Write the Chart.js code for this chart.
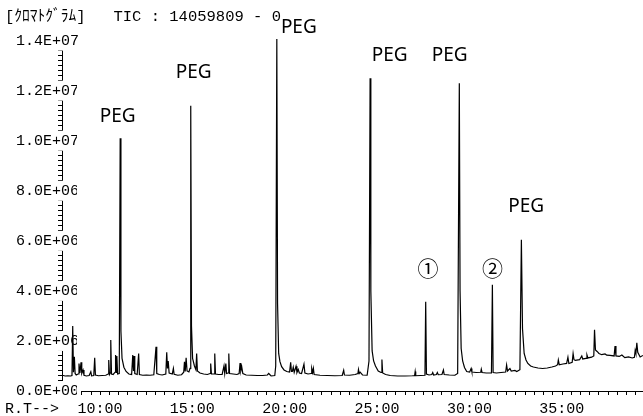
<!DOCTYPE html>
<html><head><meta charset="utf-8">
<script src="https://cdn.jsdelivr.net/npm/chart.js@4"></script>
<style>html,body{margin:0;padding:0;background:#fff}#wrap{width:643px;height:416px;position:relative}</style>
</head><body><div id="wrap"><canvas id="c"></canvas></div>
<script>
const chartTitle = '[ｸﾛﾏﾄｸﾞﾗﾑ]   TIC : 14059809 - 0';
const axisPrefix = 'R.T-->';

// retention time (min)
const times = [
 8.45,8.6,8.75,8.9,8.97,9.01,9.05,9.1,9.14,9.2,9.3,9.35,9.4,9.46,9.5,9.57,9.62,9.75,9.9,9.99,10.03,10.15,10.2,10.24,10.4,10.6,10.8,10.93,10.96,11.0,11.04,11.07,11.11,11.2,11.3,11.33,11.37,11.4,11.44,11.53,11.58,11.62,11.68,11.78,11.9,12.05,12.2,12.26,12.3,12.33,12.37,12.5,12.58,12.62,12.8,13.0,13.2,13.4,13.52,13.56,13.7,13.85,14.05,14.1,14.14,14.18,14.23,14.4,14.46,14.5,14.7,14.9,15.02,15.06,15.1,15.15,15.2,15.3,15.36,15.4,15.44,15.5,15.6,15.68,15.72,15.76,15.9,16.1,16.3,16.45,16.48,16.52,16.67,16.7,16.74,16.9,17.1,17.2,17.24,17.3,17.34,17.43,17.46,17.5,17.7,17.9,18.02,18.07,18.11,18.16,18.22,18.4,18.7,19.0,19.3,19.55,19.62,19.75,19.95,20.0,20.06,20.1,20.16,20.23,20.32,20.45,20.6,20.75,20.81,20.85,20.9,20.95,21.0,21.1,21.15,21.22,21.28,21.4,21.53,21.58,21.75,21.92,21.95,22.0,22.04,22.08,22.4,22.8,23.2,23.6,23.68,23.72,24.0,24.3,24.45,24.48,24.52,24.57,24.7,24.95,25.05,25.11,25.15,25.22,25.3,25.4,25.55,25.7,25.75,25.79,25.95,26.2,26.6,27.0,27.4,27.52,27.55,27.58,27.85,28.08,28.12,28.16,28.3,28.45,28.5,28.55,28.7,28.75,28.8,29.0,29.08,29.12,29.4,29.7,29.85,29.94,29.98,30.04,30.12,30.22,30.34,30.5,30.58,30.62,30.85,31.1,31.13,31.17,31.4,31.68,31.73,31.77,31.95,32.2,32.45,32.5,32.55,32.68,32.75,32.95,33.05,33.22,33.3,33.36,33.45,33.55,33.65,33.8,33.95,34.2,34.45,34.7,34.95,35.15,35.26,35.3,35.35,35.55,35.75,35.82,35.87,36.05,36.1,36.15,36.22,36.45,36.57,36.62,36.8,36.85,36.9,37.1,37.22,37.26,37.31,37.4,37.5,37.65,37.83,37.92,38.1,38.32,38.37,38.42,38.6,38.74,38.9,39.1,39.3,39.42,39.46,39.5,39.55,39.6,39.73,39.88
];
// total ion current (counts)
const intensities = [
 6.3e5,6.0e5,6.1e5,6.0e5,6.2e5,2.6e6,7.5e5,1.37e6,7.0e5,6.4e5,6.8e5,1.10e6,7.2e5,1.15e6,7.0e5,8.4e5,6.3e5,6.0e5,6.2e5,7.7e5,6.1e5,6.2e5,1.33e6,6.4e5,6.1e5,6.2e5,6.3e5,6.8e5,1.24e6,6.6e5,7.2e5,2.04e6,6.8e5,6.6e5,7.5e5,1.44e6,7.4e5,1.40e6,6.8e5,7.0e5,1.01e7,2.4e6,1.3e6,9.5e5,7.8e5,6.8e5,6.6e5,1.44e6,8.0e5,1.40e6,7.0e5,6.6e5,1.50e6,6.6e5,6.3e5,6.4e5,6.3e5,6.5e5,1.77e6,7.0e5,6.6e5,6.4e5,6.8e5,1.55e6,9.0e5,1.2e6,7.2e5,6.8e5,9.0e5,6.7e5,6.3e5,6.5e5,7.5e5,1.17e6,7.8e5,1.33e6,8.0e5,7.6e5,9.0e5,1.14e7,2.6e6,1.3e6,1.0e6,8.5e5,1.5e6,8.0e5,7.2e5,6.8e5,6.6e5,7.0e5,1.1e6,6.8e5,6.8e5,1.5e6,6.8e5,6.6e5,6.6e5,1.0e6,7.0e5,1.1e6,7.0e5,7.2e5,1.5e6,7.0e5,6.8e5,6.6e5,7.0e5,1.12e6,8.0e5,9.7e5,7.0e5,6.4e5,6.3e5,6.2e5,6.2e5,6.4e5,7.0e5,6.0e5,6.2e5,1.0e6,1.406e7,3.5e6,1.5e6,1.17e6,9.7e5,8.4e5,7.8e5,7.6e5,1.15e6,7.8e5,7.8e5,9.5e5,7.4e5,9.9e5,7.4e5,8.6e5,7.2e5,7.0e5,1.07e6,7.2e5,6.8e5,7.0e5,9.0e5,7.4e5,9.0e5,6.6e5,6.3e5,6.2e5,6.1e5,6.2e5,8.3e5,6.4e5,6.3e5,6.6e5,7.0e5,8.6e5,7.0e5,7.5e5,6.4e5,6.3e5,1.2e6,1.25e7,4.0e6,1.6e6,1.2e6,1.0e6,8.0e5,7.4e5,1.26e6,7.2e5,6.6e5,6.2e5,6.0e5,6.0e5,6.1e5,6.2e5,7.8e5,6.1e5,6.2e5,6.3e5,3.57e6,6.8e5,6.4e5,6.6e5,7.4e5,6.4e5,6.6e5,7.4e5,6.5e5,6.6e5,8.4e5,6.6e5,6.4e5,6.3e5,7.0e5,1.23e7,4.0e6,1.7e6,1.2e6,9.4e5,7.8e5,7.6e5,9.0e5,7.6e5,7.4e5,7.5e5,8.7e5,7.4e5,7.2e5,7.2e5,4.24e6,7.4e5,7.2e5,7.4e5,7.6e5,1.04e6,8.0e5,9.0e5,8.0e5,8.2e5,7.8e5,8.5e5,6.04e6,2.5e6,1.5e6,1.24e6,1.1e6,1.0e6,9.6e5,9.2e5,9.0e5,9.2e5,9.6e5,1.0e6,1.05e6,1.24e6,1.05e6,1.08e6,1.1e6,1.35e6,1.1e6,1.15e6,1.5e6,1.25e6,1.22e6,1.25e6,1.4e6,1.28e6,1.3e6,1.44e6,1.32e6,1.35e6,1.4e6,2.45e6,1.64e6,1.58e6,1.5e6,1.45e6,1.48e6,1.43e6,1.42e6,1.4e6,1.8e6,1.4e6,1.38e6,1.44e6,1.33e6,1.36e6,1.32e6,1.35e6,1.62e6,1.5e6,1.93e6,1.55e6,1.36e6,1.42e6
];

const xTickValues = [10, 15, 20, 25, 30, 35];
const xTickLabels = ['10:00', '15:00', '20:00', '25:00', '30:00', '35:00'];
const yTickValues = [0, 2e6, 4e6, 6e6, 8e6, 1e7, 1.2e7, 1.4e7];
const yTickLabels = ['0.0E+00', '2.0E+06', '4.0E+06', '6.0E+06', '8.0E+06', '1.0E+07', '1.2E+07', '1.4E+07'];

const peakLabels = ['PEG', 'PEG', 'PEG', 'PEG', '①', 'PEG', '②', 'PEG'];
const peakTimes = [11.58, 15.4, 20.06, 25.11, 28.12, 29.94, 31.73, 33.3];
const peakHeights = [1.01e7, 1.14e7, 1.406e7, 1.25e7, 3.57e6, 1.23e7, 4.24e6, 6.04e6];

const monoFont = "'Liberation Mono', 'Noto Sans CJK JP', monospace";

function findLabel(values, labels, v) {
  for (let i = 0; i < values.length; i++) {
    if (Math.abs(values[i] - v) < 1e-6 * Math.max(1, Math.abs(v))) return labels[i];
  }
  return '';
}

const annotPlugin = {
  id: 'peakNotes',
  afterDraw(chart, args, opts) {
    const ctx = chart.ctx;
    const xs = chart.scales.x, ys = chart.scales.y;
    ctx.save();
    ctx.fillStyle = '#000';
    ctx.textAlign = 'center';
    ctx.textBaseline = 'middle';
    peakLabels.forEach((lab, i) => {
      const off = opts.offsets[i];
      const px = xs.getPixelForValue(peakTimes[i]) + off[0];
      const py = ys.getPixelForValue(peakHeights[i]) + off[1];
      ctx.font = lab === 'PEG' ? "19px 'Noto Sans', sans-serif" : "21px 'Noto Sans CJK JP', sans-serif";
      ctx.fillText(lab, px, py);
    });
    ctx.font = '15px ' + monoFont;
    ctx.textAlign = 'left';
    ctx.fillText(axisPrefix, 5, 409);
    ctx.restore();
  }
};

new Chart(document.getElementById('c'), {
  type: 'line',
  data: {
    datasets: [{
      data: times.map((t, i) => ({ x: t, y: intensities[i] })),
      borderColor: '#000',
      borderWidth: 1.2,
      pointRadius: 0,
      tension: 0,
      fill: false,
      clip: false
    }]
  },
  options: {
    responsive: true,
    maintainAspectRatio: false,
    animation: false,
    devicePixelRatio: 1,
    layout: { padding: { left: 5, right: 1, top: 0, bottom: 0 } },
    plugins: {
      legend: { display: false },
      tooltip: { enabled: false },
      title: {
        display: true, text: chartTitle, align: 'start', color: '#000',
        font: { family: monoFont, size: 15.5, weight: 'normal', lineHeight: 1.2 },
        padding: { top: 8, bottom: 14 }
      },
      peakNotes: {
        offsets: [[-2.6, -21.5], [3, -33], [22, -12], [19.5, -22.5], [2.4, -34], [-9.7, -27.5], [0, -17], [4.7, -33]]
      }
    },
    scales: {
      x: {
        type: 'linear', min: 8.43, max: 39.83,
        afterFit(s) { s.height = 25; },
        ticks: {
          stepSize: 0.5, autoSkip: false, maxRotation: 0, minRotation: 0, includeBounds: false,
          color: '#000', font: { family: monoFont, size: 15 }, padding: 5, labelOffset: 9,
          callback: (v) => findLabel(xTickValues, xTickLabels, v)
        },
        grid: { display: true, drawOnChartArea: false, drawTicks: true, tickLength: 4, color: '#000', lineWidth: 1 },
        border: { display: true, color: '#000', width: 1 }
      },
      y: {
        type: 'linear', min: 0, max: 1.4e7,
        afterFit(s) { s.width = 57; },
        ticks: {
          stepSize: 2e5, autoSkip: false, includeBounds: false,
          mirror: true, crossAlign: 'far', padding: -46,
          color: '#000', font: { family: monoFont, size: 15 },
          showLabelBackdrop: true, backdropColor: '#fff', backdropPadding: { top: 1, bottom: 1, left: 2, right: 2 },
          callback: (v) => findLabel(yTickValues, yTickLabels, v)
        },
        grid: { display: true, drawOnChartArea: false, drawTicks: true, tickLength: 4, color: '#000', lineWidth: 1 },
        border: { display: true, color: '#000', width: 1 }
      }
    }
  },
  plugins: [annotPlugin]
});
</script>
</body></html>
